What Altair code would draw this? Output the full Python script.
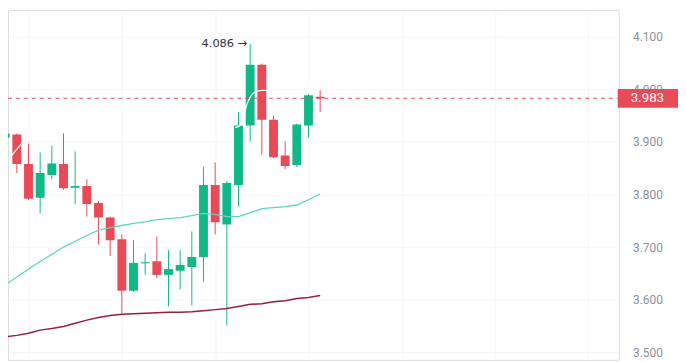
import altair as alt
import pandas as pd

# ---------------- data ----------------
idx = list(range(28))
opens = [3.908, 3.914, 3.858, 3.794, 3.837, 3.858, 3.813, 3.816, 3.784, 3.756,
         3.715, 3.617, 3.669, 3.673, 3.647, 3.655, 3.662, 3.681, 3.818, 3.743,
         3.818, 3.931, 4.047, 3.942, 3.874, 3.856, 3.931, 3.986]
closes = [3.916, 3.858, 3.792, 3.841, 3.859, 3.812, 3.816, 3.782, 3.756, 3.713,
          3.617, 3.670, 3.671, 3.647, 3.658, 3.666, 3.681, 3.818, 3.747, 3.822,
          3.931, 4.047, 3.942, 3.871, 3.854, 3.933, 3.989, 3.983]
highs = [3.955, 3.916, 3.897, 3.880, 3.893, 3.916, 3.882, 3.829, 3.788, 3.758,
         3.724, 3.713, 3.688, 3.720, 3.694, 3.694, 3.730, 3.852, 3.861, 3.826,
         3.957, 4.086, 4.049, 3.950, 3.901, 3.935, 3.991, 3.998]
lows = [3.876, 3.841, 3.790, 3.764, 3.829, 3.809, 3.782, 3.758, 3.705, 3.683,
        3.574, 3.615, 3.647, 3.641, 3.587, 3.619, 3.589, 3.634, 3.724, 3.551,
        3.777, 3.901, 3.876, 3.869, 3.848, 3.852, 3.908, 3.957]

ma_mid = [3.628, 3.643, 3.658, 3.673, 3.686, 3.700, 3.711, 3.722, 3.732, 3.737,
          3.741, 3.745, 3.748, 3.752, 3.754, 3.756, 3.760, 3.764, 3.762, 3.758,
          3.758, 3.765, 3.773, 3.775, 3.777, 3.780, 3.790, 3.801]
ma_long = [3.529, 3.532, 3.536, 3.542, 3.545, 3.549, 3.555, 3.561, 3.566, 3.570,
           3.572, 3.573, 3.574, 3.575, 3.576, 3.576, 3.577, 3.579, 3.581, 3.583,
           3.587, 3.591, 3.592, 3.596, 3.598, 3.602, 3.604, 3.608]

white_x = [0.5, 1.5, 19.7, 20.25, 20.7, 21.0, 21.4, 22.0, 22.5]
white_y = [3.873, 3.899, 3.927, 3.933, 3.970, 3.985, 3.995, 3.998, 3.998]
white_seg = ["a", "a", "b", "b", "b", "b", "b", "b", "b"]

last_price = [3.983]
last_label = ["3.983"]
peak_idx = [21]
peak_price = [4.086]
peak_label = ["4.086 →"]

y_ticks = [3.5, 3.6, 3.7, 3.8, 3.9, 4.0, 4.1]
x_grid = [2, 10, 18, 26, 34, 42, 50]

# ---------------- styling ----------------
GREEN = "#10b888"
RED = "#e84a57"
GRID = "#f5f6f8"
W, H = 618, 354

df = pd.DataFrame({"idx": idx, "open": opens, "close": closes, "high": highs, "low": lows})
df["dir"] = ["up" if c >= o else "down" for o, c in zip(opens, closes)]
ma_df = pd.DataFrame({"idx": idx, "mid": ma_mid, "long": ma_long})
white_df = pd.DataFrame({"idx": white_x, "val": white_y, "seg": white_seg})
price_df = pd.DataFrame({"price": last_price, "label": last_label})
peak_df = pd.DataFrame({"idx": peak_idx, "price": peak_price, "label": peak_label})

xscale = alt.Scale(domain=[8 / 12, 626 / 12], nice=False, zero=False)
yscale = alt.Scale(domain=[4.1 - 327 / 532, 4.1 + 27 / 532], nice=False, zero=False)
xaxis = alt.Axis(values=x_grid, labels=False, ticks=False, domain=False, grid=True,
                 gridColor=GRID, title=None)
yaxis = alt.Axis(values=y_ticks, format=".3f", orient="right", labelColor="#8c9099",
                 labelFont="Roboto", labelFontSize=12, labelPadding=14, labelAlign="left",
                 ticks=False, domain=False, grid=True, gridColor=GRID, title=None)


def X(field="idx"):
    return alt.X(f"{field}:Q", scale=xscale, axis=xaxis)


def Y(field):
    return alt.Y(f"{field}:Q", scale=yscale, axis=yaxis)


color = alt.Color("dir:N", scale=alt.Scale(domain=["up", "down"], range=[GREEN, RED]), legend=None)

base = alt.Chart(df)
wicks = base.mark_rule(strokeWidth=1, clip=True).encode(x=X(), y=Y("low"), y2="high", color=color)
bodies = base.mark_bar(width=9, clip=True).encode(x=X(), y=Y("open"), y2="close", color=color)

mid_line = alt.Chart(ma_df).mark_line(color="#5fd6bf", strokeWidth=1.3, clip=True).encode(
    x=X(), y=Y("mid"))
long_line = alt.Chart(ma_df).mark_line(color="#9a1f3c", strokeWidth=1.5, clip=True).encode(
    x=X(), y=Y("long"))
white_line = alt.Chart(white_df).mark_line(color="#ffffff", strokeWidth=1.3, clip=True,
                                           interpolate="monotone").encode(
    x=X(), y=Y("val"), detail="seg:N")

price_line = alt.Chart(price_df).mark_rule(color=RED, strokeWidth=1, strokeDash=[4, 4]).encode(
    x=alt.value(0), x2=alt.value(W), y=Y("price"))
price_box = alt.Chart(price_df).mark_rule(color=RED, strokeWidth=19, strokeCap="butt").encode(
    x=alt.value(W - 1), x2=alt.value(W + 60), y=Y("price"))
price_text = alt.Chart(price_df).mark_text(color="white", font="Roboto", fontSize=13.5,
                                           align="center", baseline="middle").encode(
    x=alt.value(W + 29), y=Y("price"), text="label:N")

peak_text = alt.Chart(peak_df).mark_text(color="#333333", font="DejaVu Sans", fontSize=11.5,
                                         align="right", baseline="middle", dx=-3).encode(
    x=X(), y=Y("price"), text="label:N")

chart = alt.layer(
    wicks, bodies, mid_line, long_line, white_line, price_line, price_box, price_text, peak_text
).properties(
    width=W, height=H,
    autosize=alt.AutoSizeParams(type="none"),
    padding={"left": 0, "top": 0, "right": 60, "bottom": 0},
).configure_view(stroke=None).configure(background="white")

chart.save("out.html", embed_options={"renderer": "svg", "actions": False})
